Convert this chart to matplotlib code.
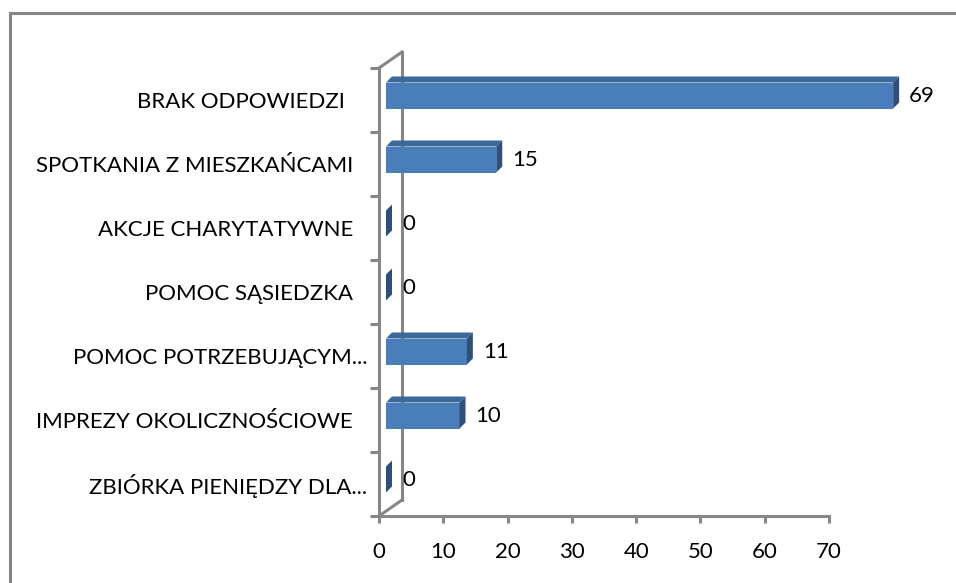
import matplotlib
matplotlib.use("Agg")
import matplotlib.pyplot as plt
from matplotlib.patches import Polygon
from matplotlib.lines import Line2D
from matplotlib.transforms import ScaledTranslation

plt.rcParams['font.family'] = ['Lato', 'DejaVu Sans']

categories = ["BRAK ODPOWIEDZI", "SPOTKANIA Z MIESZKAŃCAMI", "AKCJE CHARYTATYWNE",
              "POMOC SĄSIEDZKA", "POMOC POTRZEBUJĄCYM...", "IMPREZY OKOLICZNOŚCIOWE",
              "ZBIÓRKA PIENIĘDZY DLA..."]
values = [69, 15, 0, 0, 11, 10, 0]
xticks = [0, 10, 20, 30, 40, 50, 60, 70]

# style
GRAY = "#868686"
FRONT = "#4A7EBB"
TOP = "#3C6898"
SIDE = "#2E4E7C"
FS = 16
label_shift_px = [22, 14, 14, 14, 0, 14, 0]

W, H = 956, 583
fig = plt.figure(figsize=(W / 100, H / 100), dpi=100)

# outer border
fig.add_artist(Line2D([9.5 / W, 9.5 / W], [0, 1 - 13 / H], color=GRAY, lw=2.2, transform=fig.transFigure))
fig.add_artist(Line2D([9.5 / W, 1], [1 - 13 / H, 1 - 13 / H], color=GRAY, lw=2.2, transform=fig.transFigure))

x0, x1 = 379, 829
y0, y1 = 68, 516
rect = [x0 / W, 1 - y1 / H, (x1 - x0) / W, (y1 - y0) / H]
ax = fig.add_axes(rect)
n = len(categories)
ypos = list(range(n))
ax.set_xlim(0, 70)
ax.set_ylim(n - 0.5, -0.5)
ax.set_xticks(xticks)
ax.set_xticklabels([str(t) for t in xticks], fontsize=FS, color="#000000")
ax.set_yticks(ypos)
ax.set_yticklabels(categories, fontsize=FS, color="#000000")
ax.set_yticks([i - 0.5 for i in range(n + 1)], minor=True)
ax.tick_params(axis='y', which='major', length=0, pad=8.6)
ax.tick_params(axis='y', which='minor', length=6.5, width=2.2, color=GRAY, direction='out')
ax.tick_params(axis='x', which='major', length=5, width=2.2, color=GRAY, direction='out', pad=13.5)
for s in ['top', 'right']:
    ax.spines[s].set_visible(False)
for s in ['left', 'bottom']:
    ax.spines[s].set_color(GRAY)
    ax.spines[s].set_linewidth(2.2)
ax.patch.set_visible(False)

for lab, sh in zip(ax.get_yticklabels(), label_shift_px):
    lab.set_transform(lab.get_transform() + ScaledTranslation(-sh / 100, 0, fig.dpi_scale_trans))

# back wall lines
dxa = 23 / (x1 - x0)
dya = 16 / (y1 - y0)
for xs, ys in [([dxa, dxa], [dya, 1 + dya]), ([0, dxa], [0, dya]), ([0, dxa], [1, 1 + dya])]:
    ax.add_line(Line2D(xs, ys, color=GRAY, lw=2.2, transform=ax.transAxes, clip_on=False))

# bars axes (3D bars are drawn on a slightly different scale)
ax2 = fig.add_axes(rect)
px_per_unit = 7.35
bar_start = 386
ax2.set_xlim((x0 - bar_start) / px_per_unit, (x1 - bar_start) / px_per_unit)
ax2.set_ylim(n - 0.5, -0.5)
ax2.axis('off')

cat_px = (y1 - y0) / n
bh = 26 / cat_px
boff = 4.5 / cat_px
ddx = 6 / px_per_unit
ddy = 6 / cat_px
for y, v in zip(ypos, values):
    yc = y - boff
    yt = yc - bh / 2
    yb = yc + bh / 2
    ax2.barh(yc, v, height=bh, left=0, color=FRONT, edgecolor='none', clip_on=False)
    ax2.add_patch(Polygon([(0, yt), (v, yt), (v + ddx, yt - ddy), (ddx, yt - ddy)],
                          closed=True, facecolor=TOP, edgecolor='none', clip_on=False))
    ax2.add_patch(Polygon([(v, yt), (v, yb), (v + ddx, yb - ddy), (v + ddx, yt - ddy)],
                          closed=True, facecolor=SIDE, edgecolor='none', clip_on=False))
    ax2.annotate(str(v), xy=(v, yc), xytext=(11.5, 0), textcoords='offset points',
                 ha='left', va='center', fontsize=FS, color="#000000", annotation_clip=False)

fig.savefig("out.png", dpi=100)
